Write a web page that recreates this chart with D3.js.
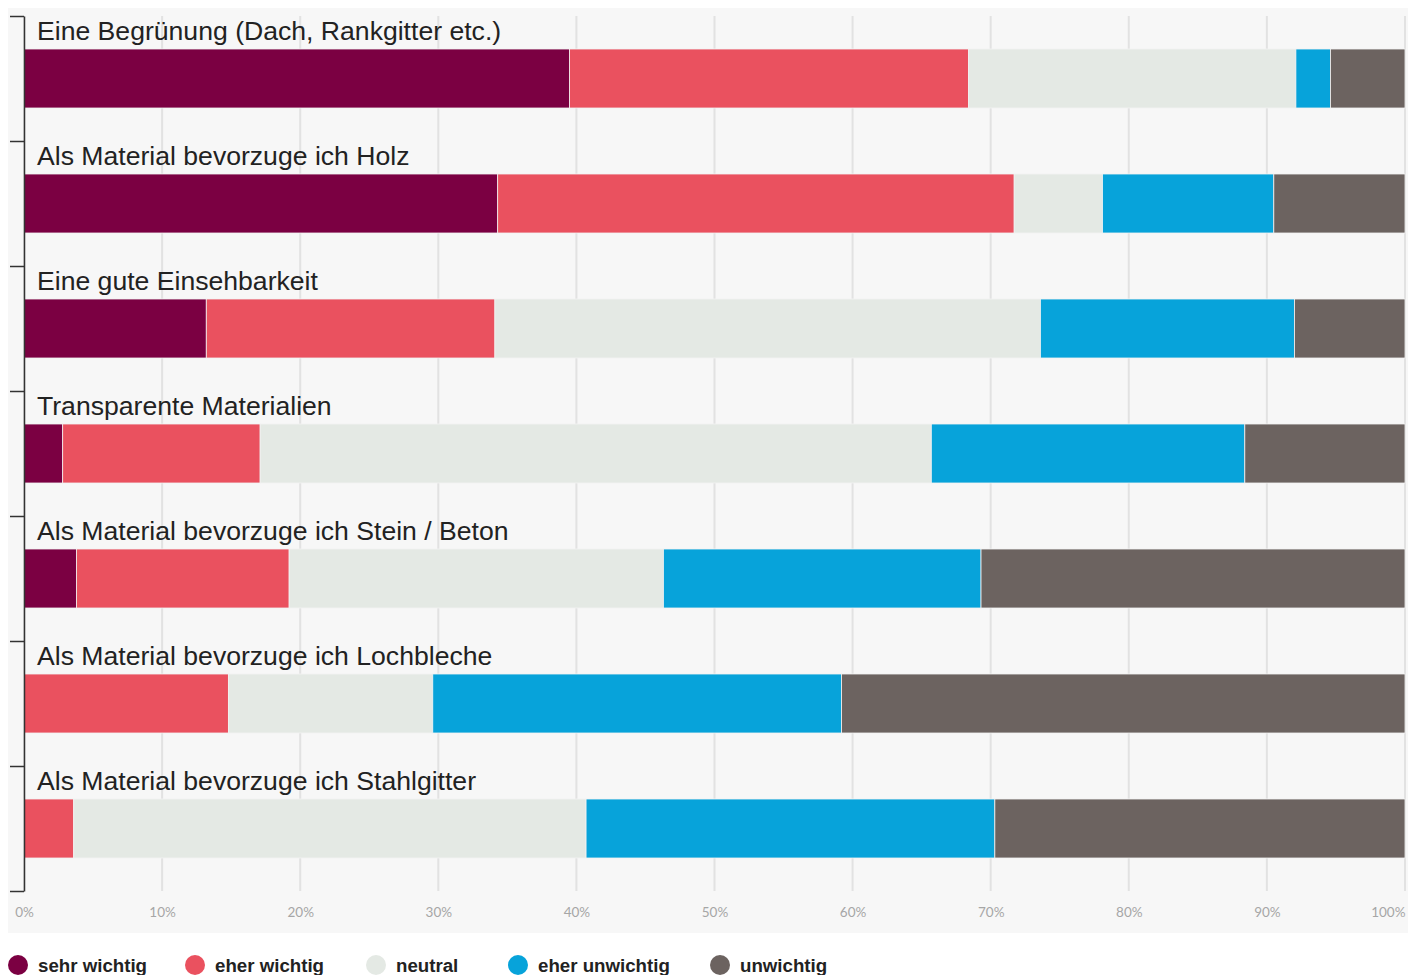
<!DOCTYPE html>
<html>
<head>
<meta charset="utf-8">
<script src="https://cdn.jsdelivr.net/npm/d3@7"></script>
<style>
  body { margin: 0; background: #fff; }
  svg { display: block; }
</style>
</head>
<body>
<div id="chart"></div>
<script>
// Daten
const categories = [
  "Eine Begrünung (Dach, Rankgitter etc.)",
  "Als Material bevorzuge ich Holz",
  "Eine gute Einsehbarkeit",
  "Transparente Materialien",
  "Als Material bevorzuge ich Stein / Beton",
  "Als Material bevorzuge ich Lochbleche",
  "Als Material bevorzuge ich Stahlgitter"
];
const seriesNames = ["sehr wichtig", "eher wichtig", "neutral", "eher unwichtig", "unwichtig"];
const seriesColors = ["#7b0042", "#ea515f", "#e4e9e4", "#07a3da", "#6c6360"];
const sehrWichtig   = [39.5, 34.3, 13.2, 2.8, 3.8, 0, 0];
const eherWichtig   = [28.9, 37.4, 20.9, 14.3, 15.4, 14.8, 3.6];
const neutral       = [23.7, 6.4, 39.5, 48.6, 27.1, 14.8, 37.1];
const eherUnwichtig = [2.5, 12.4, 18.4, 22.7, 23.0, 29.6, 29.6];
const unwichtig     = [5.4, 9.5, 8.0, 11.6, 30.7, 40.8, 29.7];
const tickValues = [0, 10, 20, 30, 40, 50, 60, 70, 80, 90, 100];

const width = 1408, height = 975;
const plotLeft = 24, plotRight = 1405, plotTop = 16, plotBottom = 891;

const svg = d3.select("#chart").append("svg")
  .attr("width", width)
  .attr("height", height);

// Hintergrund
svg.append("rect")
  .attr("x", 8).attr("y", 8)
  .attr("width", 1400).attr("height", 925)
  .attr("fill", "#f7f7f7");

const x = d3.scaleLinear().domain([0, 100]).range([plotLeft, plotRight]);
const y = d3.scaleBand().domain(categories).range([plotTop, plotBottom]).paddingInner(0).paddingOuter(0);

// Gitterlinien
svg.append("g")
  .selectAll("line")
  .data(tickValues)
  .enter().append("line")
  .attr("x1", d => x(d)).attr("x2", d => x(d))
  .attr("y1", plotTop).attr("y2", plotBottom)
  .attr("stroke", "#e2e2e2")
  .attr("stroke-width", 2);

// gestapelte Werte
const rows = categories.map((c, i) => ({
  cat: c,
  values: [sehrWichtig[i], eherWichtig[i], neutral[i], eherUnwichtig[i], unwichtig[i]]
}));
const keys = d3.range(seriesNames.length);
const stack = d3.stack()
  .keys(keys)
  .value((d, k) => d.values[k]);
const stacked = stack(rows);

const barTop = 33, barH = 59;

svg.append("g")
  .selectAll("g")
  .data(stacked)
  .enter().append("g")
  .attr("fill", d => seriesColors[d.key])
  .selectAll("rect")
  .data(d => d)
  .enter().append("rect")
  .attr("x", d => x(d[0]))
  .attr("y", d => y(d.data.cat) + barTop)
  .attr("width", d => Math.max(0, x(d[1]) - x(d[0])))
  .attr("height", barH)
  .attr("stroke", "#f2f2f2")
  .attr("stroke-width", 0.8);

// Beschriftungen der Kategorien
svg.append("g")
  .selectAll("text")
  .data(categories)
  .enter().append("text")
  .attr("x", 37)
  .attr("y", d => y(d) + 24)
  .style("font-family", "'Liberation Sans', Arial, sans-serif")
  .style("font-size", "26.6px")
  .attr("fill", "#222")
  .text(d => d);

// Y-Achse (Striche an den Bandgrenzen)
const yLin = d3.scaleLinear().domain([0, categories.length]).range([plotTop, plotBottom]);
const yAxis = svg.append("g")
  .attr("transform", "translate(" + plotLeft + ",0)")
  .call(d3.axisLeft(yLin).tickValues(d3.range(categories.length + 1)).tickSize(14).tickSizeOuter(0).tickFormat(""));
yAxis.selectAll("line, path").attr("stroke", "#333").attr("stroke-width", 1.5);

// X-Achse Beschriftung
const xAxis = svg.append("g")
  .attr("transform", "translate(0," + 904 + ")")
  .call(d3.axisBottom(x).tickValues(tickValues).tickSize(0).tickFormat(d => d + "%"));
xAxis.select(".domain").remove();
xAxis.selectAll("text")
  .style("font-family", "Lato, sans-serif")
  .style("font-size", "13.5px")
  .attr("fill", "#a6a6a6")
  .attr("text-anchor", d => d === 100 ? "end" : "middle");

// Legende
const legendX = [18, 195, 376, 518, 720];
const legend = svg.append("g")
  .selectAll("g")
  .data(seriesNames)
  .enter().append("g")
  .attr("transform", (d, i) => "translate(" + legendX[i] + ",965)");
legend.append("circle")
  .attr("r", 10)
  .attr("fill", (d, i) => seriesColors[i]);
legend.append("text")
  .attr("x", 20)
  .attr("y", 7)
  .style("font-family", "'Liberation Sans Narrow', 'Arial Narrow', sans-serif")
  .style("font-weight", "bold")
  .style("font-size", "18.7px")
  .attr("fill", "#222")
  .text(d => d);
</script>
</body>
</html>
